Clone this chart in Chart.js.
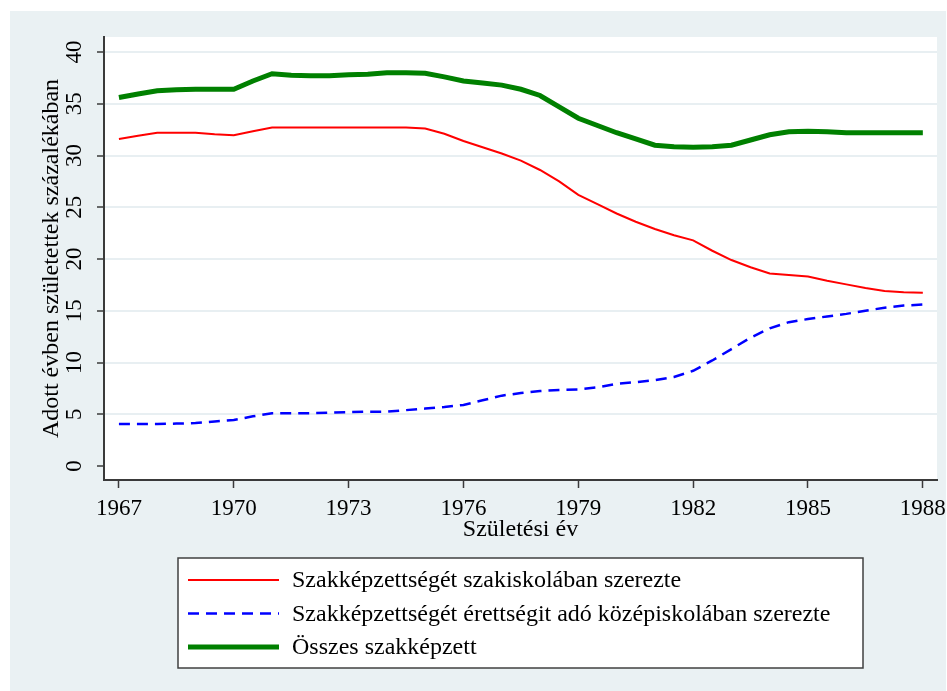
<!DOCTYPE html>
<html>
<head>
<meta charset="utf-8">
<script src="https://cdn.jsdelivr.net/npm/chart.js@4"></script>
<style>
html,body{margin:0;padding:0;background:#fff;}
#wrap{width:947px;height:691px;}
</style>
</head>
<body>
<div id="wrap"><canvas id="c" width="947" height="691"></canvas></div>
<script>
// ---- data ----
const years = [1967,1967.5,1968,1968.5,1969,1969.5,1970,1970.5,1971,1971.5,1972,1972.5,1973,1973.5,1974,1974.5,1975,1975.5,1976,1976.5,1977,1977.5,1978,1978.5,1979,1979.5,1980,1980.5,1981,1981.5,1982,1982.5,1983,1983.5,1984,1984.5,1985,1985.5,1986,1986.5,1987,1987.5,1988];
const szakiskola = [31.6,31.9,32.2,32.2,32.2,32.05,31.95,32.35,32.7,32.7,32.7,32.7,32.7,32.7,32.7,32.7,32.6,32.1,31.4,30.8,30.2,29.5,28.6,27.5,26.2,25.3,24.4,23.6,22.9,22.3,21.8,20.8,19.9,19.2,18.6,18.45,18.3,17.9,17.55,17.2,16.9,16.8,16.75];
const erettsegi = [4.05,4.05,4.05,4.1,4.15,4.3,4.45,4.8,5.1,5.1,5.1,5.15,5.2,5.25,5.25,5.4,5.55,5.7,5.9,6.35,6.8,7.05,7.25,7.35,7.4,7.6,7.95,8.1,8.3,8.6,9.2,10.2,11.3,12.4,13.3,13.9,14.2,14.45,14.7,15.0,15.3,15.5,15.6];
const osszes = [35.6,35.95,36.25,36.35,36.4,36.4,36.4,37.2,37.9,37.75,37.7,37.7,37.8,37.85,38.0,38.0,37.95,37.6,37.2,37.0,36.8,36.4,35.8,34.7,33.6,32.9,32.2,31.6,31.0,30.85,30.8,30.85,31.0,31.5,32.0,32.3,32.35,32.3,32.2,32.2,32.2,32.2,32.2];
const xTicks = [1967,1970,1973,1976,1979,1982,1985,1988];
const yTicks = [0,5,10,15,20,25,30,35,40];
const seriesNames = [
  'Szakképzettségét szakiskolában szerezte',
  'Szakképzettségét érettségit adó középiskolában szerezte',
  'Összes szakképzett'
];
const xTitle = 'Születési év';
const yTitle = 'Adott évben születettek százalékában';

// ---- styling ----
const FONT = 'Liberation Serif';
const PANEL = '#eaf1f3';
const GRID = '#e8eff2';
const AXIS = '#3a3a3a';

const toPts = arr => years.map((x, i) => ({x: x, y: arr[i]}));

const bgPlugin = {
  id: 'bg',
  beforeDraw(chart) {
    const {ctx, chartArea: a, width, height} = chart;
    ctx.save();
    ctx.fillStyle = '#ffffff';
    ctx.fillRect(0, 0, width, height);
    ctx.fillStyle = PANEL;
    ctx.fillRect(10, 11, width - 11, height - 11);
    ctx.fillStyle = '#ffffff';
    ctx.fillRect(a.left, a.top, a.right - a.left, a.bottom - a.top);
    ctx.restore();
  }
};

const legendBox = {
  id: 'legendBox',
  afterDraw(chart) {
    const {ctx, chartArea: a} = chart;
    const w = 685, h = 110;
    const x0 = Math.round((a.left + a.right) / 2 - w / 2);
    const y0 = a.bottom + 78;
    ctx.save();
    ctx.fillStyle = '#ffffff';
    ctx.fillRect(x0, y0, w, h);
    ctx.strokeStyle = '#404040';
    ctx.lineWidth = 1.5;
    ctx.strokeRect(x0, y0, w, h);
    chart.data.datasets.forEach((ds, i) => {
      const y = y0 + 22 + i * 33.5;
      ctx.beginPath();
      ctx.setLineDash(ds.borderDash || []);
      ctx.strokeStyle = ds.borderColor;
      ctx.lineWidth = ds.borderWidth;
      ctx.moveTo(x0 + 10, y);
      ctx.lineTo(x0 + 101, y);
      ctx.stroke();
      ctx.setLineDash([]);
      ctx.fillStyle = '#000';
      ctx.font = '24px "' + FONT + '"';
      ctx.textBaseline = 'middle';
      ctx.textAlign = 'left';
      ctx.fillText(ds.label, x0 + 114, y + 1);
    });
    ctx.restore();
  }
};

new Chart(document.getElementById('c'), {
  type: 'line',
  data: {
    datasets: [
      {label: seriesNames[0], data: toPts(szakiskola), borderColor: '#ff0000', borderWidth: 2, pointRadius: 0, tension: 0, fill: false},
      {label: seriesNames[1], data: toPts(erettsegi), borderColor: '#0000ff', borderWidth: 2.5, borderDash: [11, 7], pointRadius: 0, tension: 0, fill: false},
      {label: seriesNames[2], data: toPts(osszes), borderColor: '#008000', borderWidth: 5, pointRadius: 0, tension: 0, fill: false}
    ]
  },
  options: {
    responsive: false,
    animation: false,
    devicePixelRatio: 1,
    layout: {padding: {left: 10, top: 37, right: 10, bottom: 141}},
    plugins: {
      legend: {display: false},
      tooltip: {enabled: false}
    },
    scales: {
      x: {
        type: 'linear',
        min: 1966.61,
        max: 1988.37,
        afterBuildTicks: s => { s.ticks = xTicks.map(v => ({value: v})); },
        afterFit: s => { s.height = 70; s.paddingLeft = 0; s.paddingRight = 0; },
        ticks: {padding: 7, maxRotation: 0, autoSkip: false, color: '#000', font: {family: FONT, size: 23}, callback: v => String(v)},
        grid: {drawOnChartArea: false, color: AXIS, tickColor: AXIS, tickWidth: 1.5, tickLength: 8},
        border: {color: AXIS, width: 2},
        title: {display: true, text: xTitle, color: '#000', font: {family: FONT, size: 24}, padding: {top: 0, bottom: 6}}
      },
      y: {
        type: 'linear',
        min: -1.35,
        max: 41.45,
        afterBuildTicks: s => { s.ticks = yTicks.map(v => ({value: v})); },
        afterFit: s => { s.width = 94; s.paddingTop = 0; s.paddingBottom = 0; },
        ticks: {minRotation: 90, maxRotation: 90, crossAlign: 'center', padding: 11, color: '#000', font: {family: FONT, size: 23}, callback: v => String(v)},
        grid: {
          color: c => (c.tick && c.tick.value === 0) ? 'rgba(0,0,0,0)' : GRID,
          lineWidth: 2,
          tickColor: AXIS, tickWidth: 1.5, tickLength: 7
        },
        border: {color: AXIS, width: 2},
        title: {display: true, text: yTitle, color: '#000', font: {family: FONT, size: 24}, padding: {top: 27, bottom: 0}}
      }
    }
  },
  plugins: [bgPlugin, legendBox]
});
</script>
</body>
</html>
